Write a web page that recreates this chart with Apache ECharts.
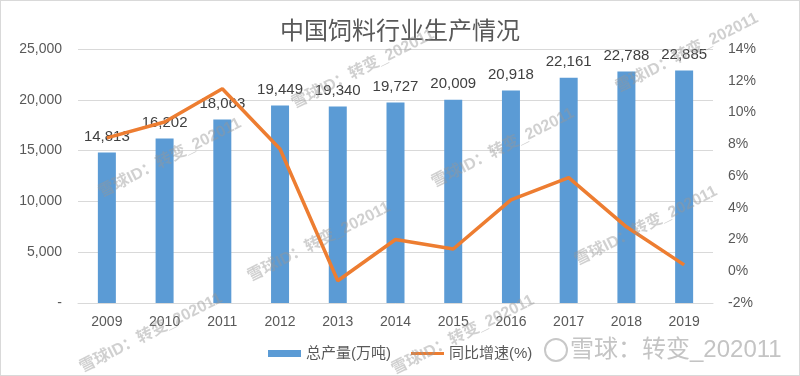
<!DOCTYPE html>
<html>
<head>
<meta charset="utf-8">
<script src="https://cdn.jsdelivr.net/npm/echarts@6/dist/echarts.min.js"></script>
<style>
    html, body { margin: 0; padding: 0; background: #fff; }
    #chart {
        width: 800px;
        height: 376px;
        box-sizing: border-box;
        border: 1px solid #d9d9d9;
    }
</style>
</head>
<body>
<div id="chart"></div>
<script>
// 年份
const years = ['2009', '2010', '2011', '2012', '2013', '2014', '2015', '2016', '2017', '2018', '2019'];
// 总产量(万吨)
const output = [14813, 16202, 18063, 19449, 19340, 19727, 20009, 20918, 22161, 22788, 22885];
// 同比增速(%)
const growth = [8.4, 9.4, 11.5, 7.7, -0.6, 2.0, 1.4, 4.5, 5.9, 2.8, 0.4];

const fontFamily = '"Liberation Sans", "Noto Sans CJK SC", sans-serif';
const wmText = '雪球ID：转变_202011';
const wmStyle = { fill: 'rgba(150,150,150,0.45)', fontSize: 16, fontFamily: fontFamily, fontWeight: 'bold' };
// 水印位置
const watermarks = [[169, 157], [318, 241], [362, 68], [502, 147], [645, 225], [686, 52], [150, 332], [462, 334]];

const myChart = echarts.init(document.getElementById('chart'));

let option = {
    textStyle: { fontFamily: fontFamily },
    title: {
        text: '中国饲料行业生产情况',
        left: 'center',
        top: 14,
        textStyle: { color: '#595959', fontSize: 24, fontWeight: 'normal', fontFamily: fontFamily }
    },
    grid: { left: 77, right: 86, top: 48, bottom: 72 },
    legend: {
        left: 262,
        top: 340,
        itemWidth: 33,
        itemHeight: 7,
        itemGap: 20,
        textStyle: { color: '#595959', fontSize: 15 },
        data: [
            { name: '总产量(万吨)', icon: 'rect' },
            // 只画一条线，不要圆点
            { name: '同比增速(%)', icon: 'path://M0,0 L0,0 M0,2 L33,2 L33,5 L0,5 Z M0,7 L0,7' }
        ]
    },
    xAxis: {
        type: 'category',
        data: years,
        axisLine: { lineStyle: { color: '#d9d9d9' } },
        axisTick: { show: false },
        axisLabel: { color: '#595959', fontSize: 14, margin: 12 }
    },
    yAxis: [
        {
            type: 'value',
            min: 0,
            max: 25000,
            interval: 5000,
            axisLine: { show: false },
            axisTick: { show: false },
            splitLine: { lineStyle: { color: '#d9d9d9' } },
            axisLabel: {
                color: '#595959',
                fontSize: 14,
                margin: 16,
                formatter: v => v === 0 ? '-' : v.toLocaleString('en-US')
            }
        },
        {
            type: 'value',
            min: -2,
            max: 14,
            interval: 2,
            axisLine: { show: false },
            axisTick: { show: false },
            splitLine: { show: false },
            axisLabel: { color: '#595959', fontSize: 14, margin: 15, formatter: '{value}%' }
        }
    ],
    series: [
        {
            name: '总产量(万吨)',
            type: 'bar',
            data: output,
            barWidth: 18,
            itemStyle: { color: '#5B9BD5' },
            label: {
                show: true,
                position: 'top',
                distance: 8,
                color: '#404040',
                fontSize: 15,
                formatter: p => p.value.toLocaleString('en-US')
            }
        },
        {
            name: '同比增速(%)',
            type: 'line',
            yAxisIndex: 1,
            data: growth,
            symbol: 'none',
            lineStyle: { color: '#ED7D31', width: 3.5 },
            itemStyle: { color: '#ED7D31' }
        }
    ],
    graphic: watermarks.map(p => ({
        type: 'text',
        x: p[0],
        y: p[1],
        rotation: 0.47,
        z: 100,
        silent: true,
        style: Object.assign({ text: wmText, align: 'center', verticalAlign: 'middle' }, wmStyle)
    })).concat([
        {
            type: 'circle',
            shape: { cx: 555, cy: 349, r: 11 },
            style: { fill: 'none', stroke: '#c8c8c8', lineWidth: 2 },
            z: 100,
            silent: true
        },
        {
            type: 'text',
            x: 569,
            y: 349,
            z: 100,
            silent: true,
            style: {
                text: '雪球：转变_202011',
                fill: '#c4c4c4',
                fontSize: 24,
                fontFamily: fontFamily,
                verticalAlign: 'middle'
            }
        }
    ])
};

myChart.setOption(option);
</script>
</body>
</html>
